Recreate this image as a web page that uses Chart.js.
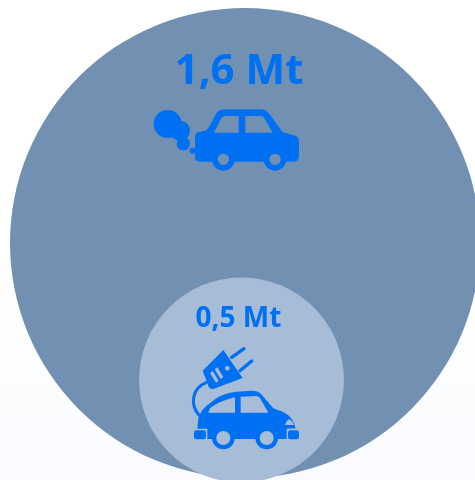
<!DOCTYPE html>
<html>
<head>
<meta charset="utf-8">
<title>Émissions</title>
<script src="https://cdn.jsdelivr.net/npm/chart.js@4/dist/chart.umd.min.js"></script>
<style>
    html, body { margin: 0; padding: 0; }
    body { width: 475px; height: 480px; overflow: hidden; background: linear-gradient(#ffffff 60%, #f9fbfe 100%); }
    canvas { display: block; }
</style>
</head>
<body>
<canvas id="co2Chart" width="475" height="480"></canvas>
<script>
const categories = ['thermique', 'electrique'];
const emissions = [1.6, 0.5];
const unit = 'Mt';

const ICON_BLUE = '#0070f2';
const bubbleColors = ['#7190b2', '#a7bcd7'];

// bubble radius grows with the emission value
function radiusFor(value) {
    return 235 * Math.pow(value / 1.6, 0.714);
}

function formatValue(value) {
    return value.toFixed(1).replace('.', ',') + ' ' + unit;
}

// wheel is a disc with a hole showing the bubble behind it
function drawWheel(ctx, x, y, outer, inner, holeColor) {
    ctx.fillStyle = ICON_BLUE;
    ctx.beginPath();
    ctx.arc(x, y, outer, 0, Math.PI * 2);
    ctx.fill();
    ctx.fillStyle = holeColor;
    ctx.beginPath();
    ctx.arc(x, y, inner, 0, Math.PI * 2);
    ctx.fill();
    ctx.fillStyle = ICON_BLUE;
}

// combustion car with its exhaust puffs
function drawThermalCar(ctx) {
    [[83, 252, 42], [120, 272, 30], [130, 311, 20], [158, 332, 9]].forEach(([x, y, r]) => {
        ctx.beginPath();
        ctx.arc(x, y, r, 0, Math.PI * 2);
        ctx.fill();
    });

    const body = new Path2D('M178 276 L196 272 Q204 268 212 252 L224 230 Q232 208 256 208 L360 208 Q378 208 390 224 L425 272 Q428 278 440 280 L462 286 Q477 290 477 304 L477 348 Q477 365 460 365 L180 365 Q165 365 165 350 L165 290 Q165 278 178 276 Z');
    body.addPath(new Path2D('M222 278 L243 236 Q247 228 256 228 L296 228 L296 278 Z'));
    body.addPath(new Path2D('M316 228 L362 228 Q370 228 374 236 L398 278 L316 278 Z'));
    ctx.fill(body, 'evenodd');

    drawWheel(ctx, 250, 358, 34, 17, bubbleColors[0]);
    drawWheel(ctx, 405, 358, 34, 17, bubbleColors[0]);
}

// electric car with plug and cable
function drawElectricCar(ctx) {
    const body = new Path2D('M232 477 L232 446 L202 446 L205 415 Q215 385 240 370 Q270 340 320 335 L365 332 Q385 332 393 342 L430 385 L458 395 Q490 410 497 445 L470 446 L470 477 Z');
    body.addPath(new Path2D('M235 398 L240 385 Q270 362 315 352 L315 398 Z'));
    body.addPath(new Path2D('M332 350 L378 348 Q386 348 390 354 L415 398 L332 398 Z'));
    body.addPath(new Path2D('M465 435 Q470 420 478 418 Q488 424 492 435 Z'));
    ctx.fill(body, 'evenodd');

    [[192, 228], [474, 507]].forEach(([x0, x1]) => {
        ctx.beginPath();
        ctx.roundRect(x0, 451, x1 - x0, 27, 7);
        ctx.fill();
    });

    drawWheel(ctx, 280, 474, 34, 21, bubbleColors[1]);
    drawWheel(ctx, 410, 474, 34, 21, bubbleColors[1]);

    ctx.lineCap = 'round';
    ctx.strokeStyle = ICON_BLUE;
    ctx.lineWidth = 9;
    ctx.beginPath();
    ctx.moveTo(207, 405);
    ctx.bezierCurveTo(180, 375, 185, 325, 228, 308);
    ctx.stroke();

    const plug = new Path2D('M218 272 L280 210 L338 294 L252 326 Q242 330 236 320 Z');
    plug.addPath(new Path2D('M240 279 L248 273 L266 302 L258 308 Z'));
    plug.addPath(new Path2D('M254 268 L262 262 L280 291 L272 297 Z'));
    plug.moveTo(299, 265);
    plug.arc(292, 265, 7, 0, Math.PI * 2);
    ctx.fill(plug, 'evenodd');

    ctx.lineWidth = 10;
    ctx.beginPath();
    ctx.moveTo(305, 232);
    ctx.lineTo(342, 206);
    ctx.moveTo(330, 272);
    ctx.lineTo(365, 243);
    ctx.stroke();
}

const iconPlugin = {
    id: 'bubbleLabels',
    afterDatasetsDraw(chart) {
        const ctx = chart.ctx;
        const points = chart.getDatasetMeta(0).data;
        const big = points[0];
        const small = points[1];

        ctx.save();
        ctx.fillStyle = ICON_BLUE;
        ctx.textAlign = 'center';
        ctx.textBaseline = 'alphabetic';
        ctx.font = "bold 42px 'Open Sans'";
        ctx.fillText(formatValue(emissions[0]), big.x - 6, big.y - 159);
        ctx.font = "bold 28px 'Open Sans'";
        ctx.fillText(formatValue(emissions[1]), small.x - 3, small.y - 53);

        ctx.save();
        ctx.translate(big.x - 105, big.y - 203);
        ctx.scale(1 / 3, 1 / 3);
        drawThermalCar(ctx);
        ctx.restore();

        ctx.save();
        ctx.translate(small.x - 111.5, small.y - 100);
        ctx.scale(1 / 3, 1 / 3);
        drawElectricCar(ctx);
        ctx.restore();
        ctx.restore();
    }
};

new Chart(document.getElementById('co2Chart'), {
    type: 'bubble',
    data: {
        labels: categories,
        datasets: [{
            data: [
                { x: 245, y: 243, r: radiusFor(emissions[0]) },
                { x: 241.5, y: 380, r: radiusFor(emissions[1]) }
            ],
            backgroundColor: bubbleColors,
            hoverBackgroundColor: bubbleColors,
            borderWidth: 0,
            clip: false
        }]
    },
    options: {
        responsive: false,
        animation: false,
        layout: { padding: 0, autoPadding: false },
        plugins: { legend: { display: false }, tooltip: { enabled: false } },
        scales: {
            x: { display: false, min: 0, max: 475 },
            y: { display: false, min: 0, max: 480, reverse: true }
        }
    },
    plugins: [iconPlugin]
});
</script>
</body>
</html>
